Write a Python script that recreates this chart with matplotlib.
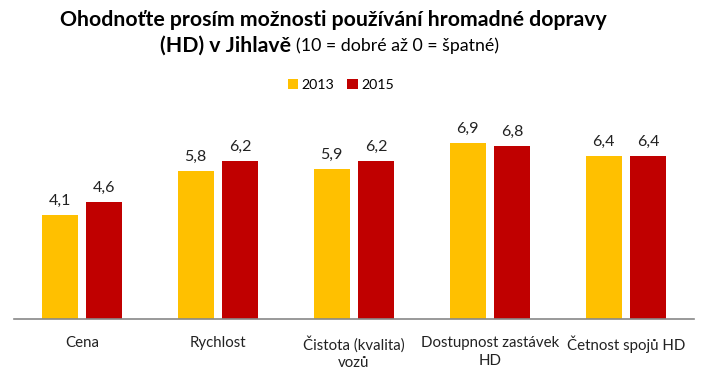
import matplotlib

matplotlib.use("Agg")
import matplotlib.pyplot as plt  # noqa: E402
import numpy as np  # noqa: E402

categories = ["Cena", "Rychlost", "Čistota (kvalita)\nvozů", "Dostupnost zastávek\nHD", "Četnost spojů HD"]
values_2013 = [4.1, 5.8, 5.9, 6.9, 6.4]
values_2015 = [4.6, 6.2, 6.2, 6.8, 6.4]
series_labels = ["2013", "2015"]

COL_2013 = "#FFC000"
COL_2015 = "#C00000"
FONT = ["Lato", "DejaVu Sans"]
W, H = 703, 381

plt.rcParams["font.family"] = FONT

fig = plt.figure(figsize=(W / 100, H / 100), dpi=100)
ax = fig.add_axes([14 / W, (H - 319) / H, 680 / W, 214 / H])

x = np.arange(len(categories))
bw = 0.265
off = 0.165
ax.bar(x - off, values_2013, bw, color=COL_2013, label=series_labels[0])
ax.bar(x + off, values_2015, bw, color=COL_2015, label=series_labels[1])

for xs, vals in ((x - off, values_2013), (x + off, values_2015)):
    for xi, v in zip(xs, vals):
        ax.text(xi, v + 0.28, f"{v:.1f}".replace(".", ","), ha="center", va="bottom",
                fontsize=11.5, color="#222222")

ax.set_xlim(-0.5, len(categories) - 0.5)
ax.set_ylim(0, 8.4)
ax.set_yticks([])
ax.set_xticks(x)
ax.set_xticklabels(categories, fontsize=10.8, color="#222222", linespacing=1.35)
ax.tick_params(axis="x", length=0, pad=12)
for side in ("top", "right", "left"):
    ax.spines[side].set_visible(False)
ax.spines["bottom"].set_color("#888888")
ax.spines["bottom"].set_linewidth(1.2)

# title
fig.text(333 / W, 1 - 20 / H, "Ohodnoťte prosím možnosti používání hromadné dopravy",
         ha="center", va="center", fontsize=15.3, fontweight="bold")
fig.text(291 / W, 1 - 46 / H, "(HD) v Jihlavě", ha="right", va="center",
         fontsize=15.3, fontweight="bold")
fig.text(296 / W, 1 - 46 / H, "(10 = dobré až 0 = špatné)", ha="left", va="center",
         fontsize=12.8)

ax.legend(loc="center", bbox_to_anchor=(341 / W, 1 - 85 / H), bbox_transform=fig.transFigure,
          ncol=2, frameon=False, fontsize=10.2, handlelength=0.75, handleheight=0.75,
          handletextpad=0.25, columnspacing=0.9)

fig.savefig("out.png", dpi=100)
